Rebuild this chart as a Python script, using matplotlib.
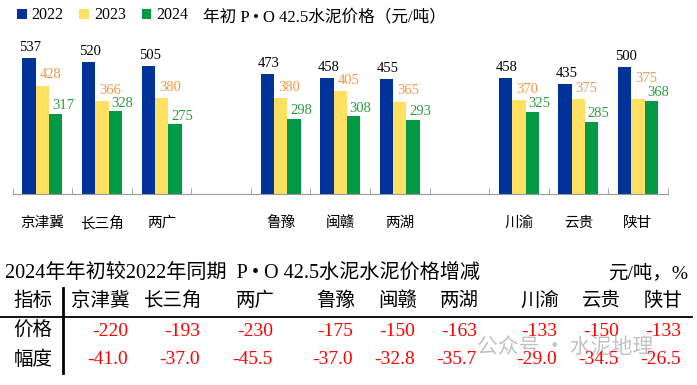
import matplotlib
matplotlib.use('Agg')
import matplotlib.pyplot as plt
from matplotlib.lines import Line2D
import numpy as np

# ── data ──
regions = ['京津冀', '长三角', '两广', '鲁豫', '闽赣', '两湖', '川渝', '云贵', '陕甘']
slots = [0, 1, 2, 4, 5, 6, 8, 9, 10]          # blank slot between the three groups
years = ['2022', '2023', '2024']
p2022 = [537, 520, 505, 473, 458, 455, 458, 435, 500]
p2023 = [428, 366, 380, 380, 405, 365, 370, 375, 375]
p2024 = [317, 328, 275, 298, 308, 293, 325, 285, 368]
price_change = ['-220', '-193', '-230', '-175', '-150', '-163', '-133', '-150', '-133']
pct_change = ['-41.0', '-37.0', '-45.5', '-37.0', '-32.8', '-35.7', '-29.0', '-34.5', '-26.5']

BAR_COLORS = ['#003399', '#FFE060', '#009944']
LBL_COLORS = ['#000000', '#F79646', '#2E9A3E']
SERIF = ['Liberation Serif', 'Noto Sans CJK SC']
CJK = ['Noto Sans CJK SC', 'DejaVu Sans']
plt.rcParams['font.family'] = SERIF

W, H = 697, 385
fig = plt.figure(figsize=(W / 100, H / 100), dpi=100)


def fx(px): return px / W
def fy(py): return 1 - py / H


ax = fig.add_axes([fx(12.7), fy(194), fx(667.7) - fx(12.7), fy(42) - fy(194)])
x = np.array(slots, dtype=float)
bw = 0.224
offs = [(1, 3), (6, 3), (5, 1)]
nudge = {(1, 8): 7}   # lift 陕甘 2023 label above the 2024 one, as in the source
for k, (vals, c, lc) in enumerate(zip([p2022, p2023, p2024], BAR_COLORS, LBL_COLORS)):
    xs = x + (k - 1) * bw
    ax.bar(xs, vals, bw, color=c, label=years[k], linewidth=0)
    for i, (xi, v) in enumerate(zip(xs, vals)):
        dx, dy = offs[k]
        ax.annotate(str(v), (xi, v), xytext=(dx, dy + nudge.get((k, i), 0)),
                    textcoords='offset points', ha='center', va='bottom',
                    fontsize=10.5, color=lc)

ax.set_xlim(-0.5, 10.5)
ax.set_ylim(0, 600)
for s in ('top', 'right', 'left'):
    ax.spines[s].set_visible(False)
ax.spines['bottom'].set_color('#999999')
ax.set_yticks([])
ax.set_xticks(np.arange(-0.5, 11, 1), minor=True)
ax.set_xticks([])
ax.tick_params(axis='x', which='minor', direction='in', length=4, color='#999999')

# category labels under the bars
for s, r in zip(slots, regions):
    ax.text(s, -0.19, r, transform=ax.get_xaxis_transform(),
            ha='center', va='center', fontsize=10.5, family=CJK)

# legend + title
ax.legend(loc='upper left', bbox_to_anchor=(-0.003, 1.27),
          ncol=3, frameon=False, fontsize=11.5, handlelength=0.6, handleheight=0.6,
          handletextpad=0.3, columnspacing=1.0, borderaxespad=0)
fig.text(fx(203), fy(17), '年初 P • O 42.5水泥价格（元/吨）', ha='left', va='center', fontsize=12)

# ── table ──
fig.text(fx(5), fy(273), '2024年年初较2022年同期  P • O 42.5水泥水泥价格增减', ha='left', va='center', fontsize=14.5)
fig.text(fx(688), fy(273), '元/吨，%', ha='right', va='center', fontsize=14)
col_right = [128, 200, 273, 353, 415, 477, 557, 619, 681]
fig.text(fx(33), fy(301), '指标', ha='center', va='center', fontsize=14)
fig.text(fx(33), fy(331), '价格', ha='center', va='center', fontsize=14)
fig.text(fx(33), fy(360), '幅度', ha='center', va='center', fontsize=14)
for xr, r, a, b in zip(col_right, regions, price_change, pct_change):
    fig.text(fx(xr + 2), fy(301), r, ha='right', va='center', fontsize=14)
    fig.text(fx(xr), fy(331), a, ha='right', va='center', fontsize=14, color='#FF0000')
    fig.text(fx(xr), fy(360), b, ha='right', va='center', fontsize=14, color='#FF0000')
fig.add_artist(Line2D([fx(0), fx(692)], [fy(316.5), fy(316.5)], color='black', lw=1.3))
fig.add_artist(Line2D([fx(62.7), fx(62.7)], [fy(288), fy(373)], color='black', lw=2))

# watermark
fig.text(fx(565), fy(347), '公众号 · 水泥地理', ha='center', va='center', fontsize=15,
         color='#9a9a9a', alpha=0.6, family=CJK)

fig.savefig('out.png', dpi=100)
